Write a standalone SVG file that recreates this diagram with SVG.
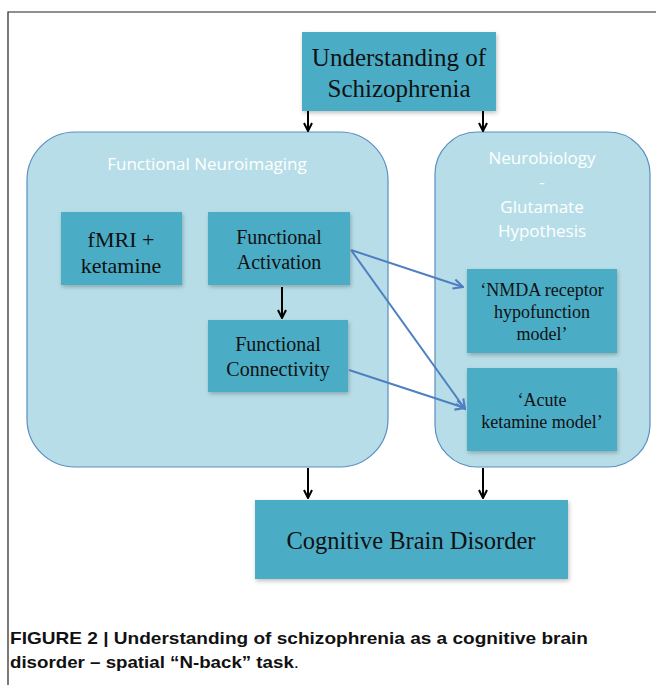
<svg xmlns="http://www.w3.org/2000/svg" width="656" height="685" viewBox="0 0 656 685">
<defs>
<style>
.box{fill:#4BACC6;}
.cont{fill:#B7DEE8;stroke:#5B8EC2;stroke-width:1.2;}
.t{font-family:"Liberation Serif","Times New Roman",serif;fill:#111;text-anchor:middle;}
.h{font-family:"Open Sans","Liberation Sans",sans-serif;fill:#fff;text-anchor:middle;font-size:17px;}
.blk{stroke:#000;stroke-width:2;fill:none;marker-end:url(#ab);}
.blu{stroke:#4F7FC0;stroke-width:2;fill:none;marker-end:url(#au);}
.cap{font-family:"Liberation Sans Narrow","Liberation Sans",Arial,sans-serif;font-weight:bold;font-size:17px;fill:#111;}
</style>
<marker id="ab" viewBox="0 0 10 10" refX="9" refY="5" markerWidth="5" markerHeight="5" orient="auto" markerUnits="strokeWidth">
<path d="M1,1 L9,5 L1,9" fill="none" stroke="#000" stroke-width="2"/>
</marker>
<marker id="au" viewBox="0 0 10 10" refX="9" refY="5" markerWidth="6" markerHeight="6" orient="auto" markerUnits="strokeWidth">
<path d="M1,1 L9,5 L1,9" fill="none" stroke="#4F7FC0" stroke-width="1.8"/>
</marker>
<filter id="sh" x="-10%" y="-10%" width="125%" height="130%">
<feDropShadow dx="1" dy="2" stdDeviation="2" flood-color="#000" flood-opacity="0.25"/>
</filter>
</defs>
<rect width="656" height="685" fill="#fff"/>
<path d="M8,685 L8,12 L656,12" fill="none" stroke="#222" stroke-width="1.2"/>

<g id="understanding">
<rect class="box" x="302" y="32" width="194" height="79" filter="url(#sh)"/>
<text class="t" x="399" y="66" font-size="25">Understanding of</text>
<text class="t" x="399" y="97" font-size="25">Schizophrenia</text>
</g>

<g id="functional-neuroimaging">
<rect class="cont" x="27" y="132" width="361" height="335" rx="48"/>
<text class="h" x="207" y="170">Functional Neuroimaging</text>
</g>

<g id="neurobiology">
<rect class="cont" x="435" y="132" width="215" height="335" rx="42"/>
<text class="h" x="542" y="164">Neurobiology</text>
<text class="h" x="542" y="188">-</text>
<text class="h" x="542" y="213">Glutamate</text>
<text class="h" x="542" y="237">Hypothesis</text>
</g>

<g id="fmri">
<rect class="box" x="61" y="212" width="121" height="73" filter="url(#sh)"/>
<text class="t" x="121" y="247" font-size="22">fMRI +</text>
<text class="t" x="121" y="273" font-size="22">ketamine</text>
</g>

<g id="functional-activation">
<rect class="box" x="208" y="212" width="142" height="73" filter="url(#sh)"/>
<text class="t" x="279" y="244" font-size="20">Functional</text>
<text class="t" x="279" y="269" font-size="20">Activation</text>
</g>

<g id="functional-connectivity">
<rect class="box" x="208" y="320" width="140" height="72" filter="url(#sh)"/>
<text class="t" x="278" y="351" font-size="20">Functional</text>
<text class="t" x="278" y="376" font-size="20">Connectivity</text>
</g>

<g id="nmda">
<rect class="box" x="467" y="269" width="150" height="84" filter="url(#sh)"/>
<text class="t" x="542" y="296" font-size="18">‘NMDA receptor</text>
<text class="t" x="542" y="318" font-size="18">hypofunction</text>
<text class="t" x="542" y="340" font-size="18">model’</text>
</g>

<g id="acute">
<rect class="box" x="467" y="368" width="150" height="83" filter="url(#sh)"/>
<text class="t" x="542" y="406" font-size="18">‘Acute</text>
<text class="t" x="542" y="428" font-size="18">ketamine model’</text>
</g>

<g id="cognitive">
<rect class="box" x="255" y="500" width="313" height="79" filter="url(#sh)"/>
<text class="t" x="411" y="549" font-size="24.5">Cognitive Brain Disorder</text>
</g>

<g id="connectors">
<line class="blk" x1="308" y1="111" x2="308" y2="131"/>
<line class="blk" x1="483" y1="111" x2="483" y2="131"/>
<line class="blk" x1="282" y1="287" x2="282" y2="318"/>
<line class="blk" x1="308" y1="468" x2="308" y2="498"/>
<line class="blk" x1="483" y1="468" x2="483" y2="498"/>
<line class="blu" x1="351" y1="250" x2="463" y2="287"/>
<line class="blu" x1="351" y1="250" x2="465" y2="409"/>
<line class="blu" x1="349" y1="370" x2="465" y2="408"/>
</g>

<g id="caption">
<text class="cap" x="10" y="644" textLength="578" lengthAdjust="spacingAndGlyphs">FIGURE 2 | Understanding of schizophrenia as a cognitive brain</text>
<text class="cap" x="10" y="668" textLength="289" lengthAdjust="spacingAndGlyphs">disorder – spatial “N-back” task<tspan font-weight="normal">.</tspan></text>
</g>
</svg>
